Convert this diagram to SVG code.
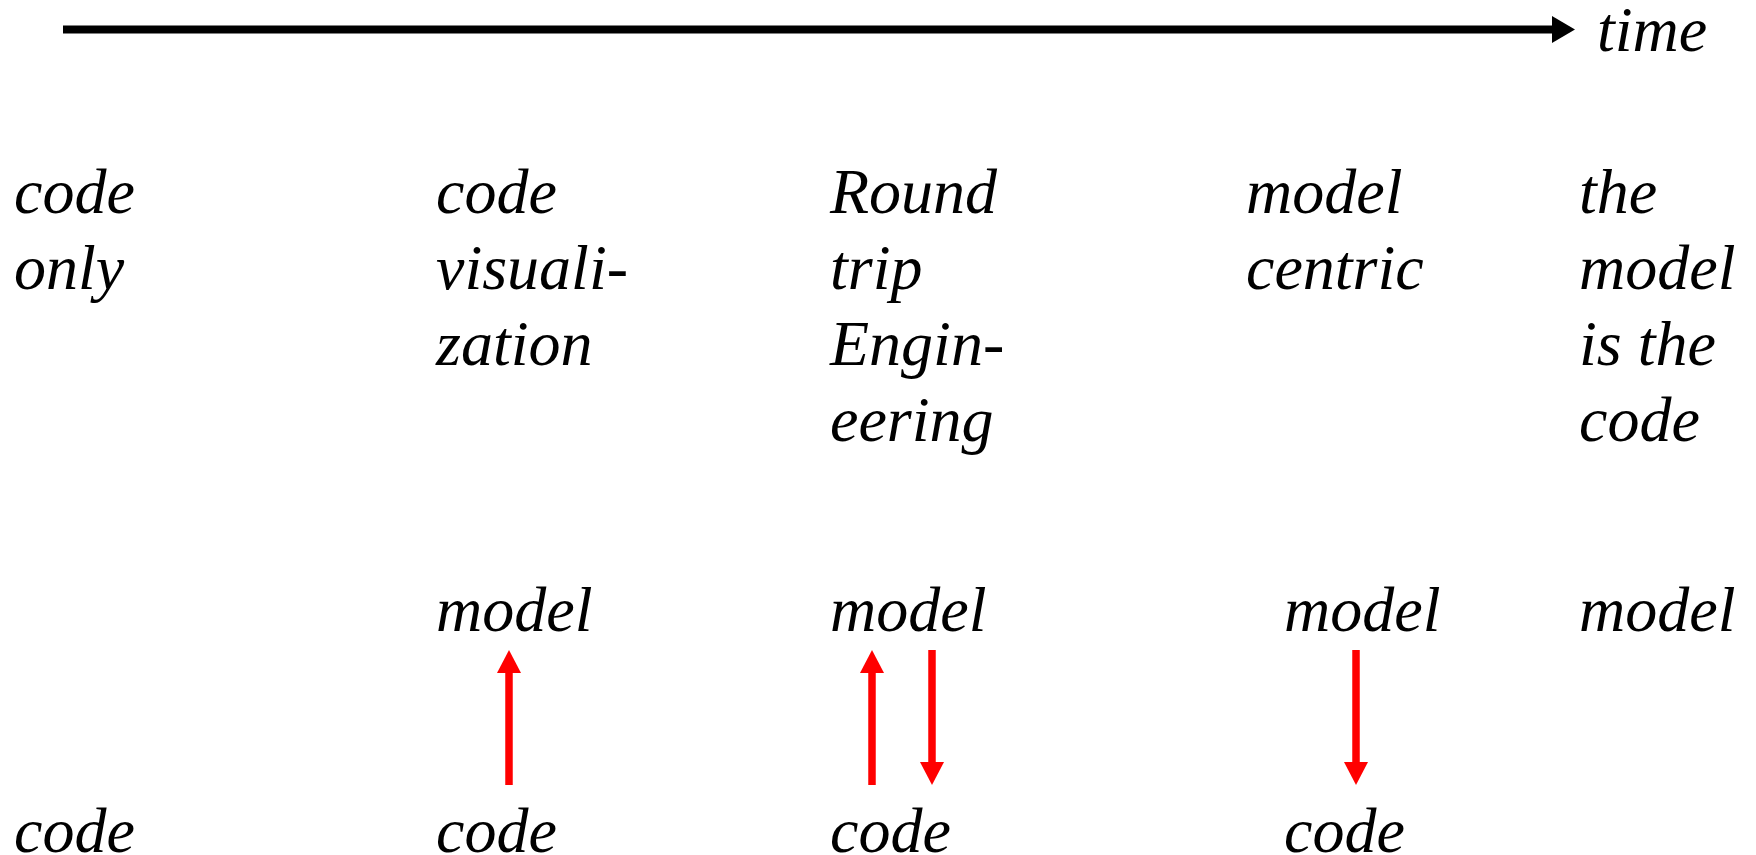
<svg xmlns="http://www.w3.org/2000/svg" width="1756" height="855" viewBox="0 0 1756 855">
  <style>
    .lbl { font-family: "Liberation Serif", "Times New Roman", serif; font-style: italic; font-size: 64px; fill: #000; }
    .axis { stroke: #000; stroke-width: 8; fill: none; }
    .flow { stroke: #ff0000; stroke-width: 7.5; fill: none; }
  </style>
  <defs>
    <marker id="head-red" markerUnits="userSpaceOnUse" markerWidth="24" markerHeight="24" viewBox="0 0 24 24" refX="0" refY="12" orient="auto">
      <polygon points="0,0 23,12 0,24" fill="#ff0000"/>
    </marker>
  </defs>
  <rect width="1756" height="855" fill="#fff"/>

  <!-- time axis -->
  <g id="time-axis">
    <line class="axis" x1="63" y1="29.5" x2="1553" y2="29.5"/>
    <polygon points="1552,16 1575,29.5 1552,43" fill="#000"/>
    <text class="lbl" x="1597" y="51">time</text>
  </g>

  <!-- stage headings -->
  <g id="stage-code-only">
    <text class="lbl" x="14" y="213">code</text>
    <text class="lbl" x="14" y="289">only</text>
  </g>
  <g id="stage-visualization">
    <text class="lbl" x="436" y="213">code</text>
    <text class="lbl" x="436" y="289">visuali-</text>
    <text class="lbl" x="436" y="365">zation</text>
  </g>
  <g id="stage-roundtrip">
    <text class="lbl" x="830" y="213">Round</text>
    <text class="lbl" x="830" y="289">trip</text>
    <text class="lbl" x="830" y="365">Engin-</text>
    <text class="lbl" x="830" y="441">eering</text>
  </g>
  <g id="stage-model-centric">
    <text class="lbl" x="1246" y="213">model</text>
    <text class="lbl" x="1246" y="289">centric</text>
  </g>
  <g id="stage-model-is-code">
    <text class="lbl" x="1579" y="213">the</text>
    <text class="lbl" x="1579" y="289">model</text>
    <text class="lbl" x="1579" y="365">is the</text>
    <text class="lbl" x="1579" y="441">code</text>
  </g>

  <!-- model row -->
  <g id="model-visualization"><text class="lbl" x="436" y="631">model</text></g>
  <g id="model-roundtrip"><text class="lbl" x="830" y="631">model</text></g>
  <g id="model-centric"><text class="lbl" x="1284" y="631">model</text></g>
  <g id="model-is-code"><text class="lbl" x="1579" y="631">model</text></g>

  <!-- code row -->
  <g id="code-only"><text class="lbl" x="14" y="852">code</text></g>
  <g id="code-visualization"><text class="lbl" x="436" y="852">code</text></g>
  <g id="code-roundtrip"><text class="lbl" x="830" y="852">code</text></g>
  <g id="code-centric"><text class="lbl" x="1284" y="852">code</text></g>

  <!-- code/model connectors -->
  <g id="connectors">
    <line class="flow" x1="509" y1="785" x2="509" y2="673" marker-end="url(#head-red)"/>
    <line class="flow" x1="872" y1="785" x2="872" y2="673" marker-end="url(#head-red)"/>
    <line class="flow" x1="932" y1="650" x2="932" y2="762" marker-end="url(#head-red)"/>
    <line class="flow" x1="1356" y1="650" x2="1356" y2="762" marker-end="url(#head-red)"/>
  </g>
</svg>
